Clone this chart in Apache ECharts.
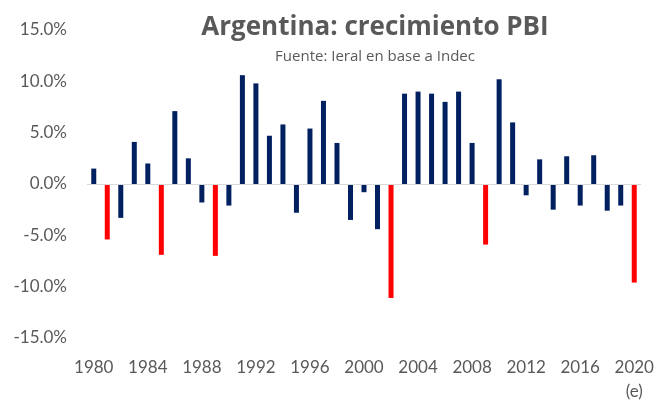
<!DOCTYPE html>
<html>
<head>
<meta charset="utf-8">
<script src="https://cdn.jsdelivr.net/npm/echarts@6/dist/echarts.min.js"></script>
<style>
  html, body { margin: 0; padding: 0; background: #fff; }
  #chart { width: 658px; height: 401px; }
</style>
</head>
<body>
<div id="chart"></div>
<script>
// años y crecimiento del PBI (%)
const years = [1980, 1981, 1982, 1983, 1984, 1985, 1986, 1987, 1988, 1989,
  1990, 1991, 1992, 1993, 1994, 1995, 1996, 1997, 1998, 1999,
  2000, 2001, 2002, 2003, 2004, 2005, 2006, 2007, 2008, 2009,
  2010, 2011, 2012, 2013, 2014, 2015, 2016, 2017, 2018, 2019, 2020]
const growth = [1.5, -5.4, -3.3, 4.1, 2.0, -6.9, 7.1, 2.5, -1.8, -7.0,
  -2.1, 10.6, 9.8, 4.7, 5.8, -2.8, 5.4, 8.1, 4.0, -3.5,
  -0.8, -4.4, -11.1, 8.8, 9.0, 8.8, 8.0, 9.0, 4.0, -5.9,
  10.2, 6.0, -1.1, 2.4, -2.5, 2.7, -2.1, 2.8, -2.6, -2.1, -9.6]
// años destacados en rojo
const highlightYears = [1981, 1985, 1989, 2002, 2009, 2020]
const estimatedYear = 2020
const yTicks = [-15, -10, -5, 0, 5, 10, 15]

const font = 'Lato, "Open Sans", sans-serif'
const titleFont = '"Open Sans", Lato, sans-serif'
const gray = '#595959'

let myChart = echarts.init(document.getElementById('chart'))
let option = {
  animation: false,
  title: {
    text: 'Argentina: crecimiento PBI',
    subtext: 'Fuente: Ieral en base a Indec',
    left: 370,
    top: 10,
    textAlign: 'center',
    itemGap: 8,
    textStyle: { fontFamily: titleFont, fontSize: 26, fontWeight: 'bold', color: gray },
    subtextStyle: { fontFamily: titleFont, fontSize: 15, color: gray }
  },
  grid: { left: 87, right: 17, top: 30, bottom: 63, outerBoundsMode: 'none' },
  xAxis: {
    type: 'category',
    data: years.map(String),
    axisLine: { show: false },
    axisTick: { show: false },
    axisLabel: {
      interval: 3,
      margin: 18,
      fontFamily: font,
      fontSize: 17,
      color: gray,
      lineHeight: 24,
      formatter: v => (Number(v) === estimatedYear ? v + '\n(e)' : v)
    }
  },
  yAxis: {
    type: 'value',
    min: yTicks[0],
    max: yTicks[yTicks.length - 1],
    interval: 5,
    axisLine: { show: false },
    axisTick: { show: false },
    splitLine: { show: false },
    axisLabel: {
      margin: 20,
      fontFamily: font,
      fontSize: 17,
      color: gray,
      formatter: v => v.toFixed(1) + '%'
    }
  },
  series: [{
    type: 'bar',
    barWidth: 5,
    data: growth.map((v, i) => ({
      value: v,
      itemStyle: { color: highlightYears.includes(years[i]) ? '#FF0000' : '#002060' }
    })),
    markLine: {
      silent: true,
      symbol: 'none',
      label: { show: false },
      lineStyle: { color: '#D9D9D9', width: 1, type: 'solid' },
      data: [{ yAxis: 0 }]
    },
    z: 3
  }]
}
myChart.setOption(option)
</script>
</body>
</html>
